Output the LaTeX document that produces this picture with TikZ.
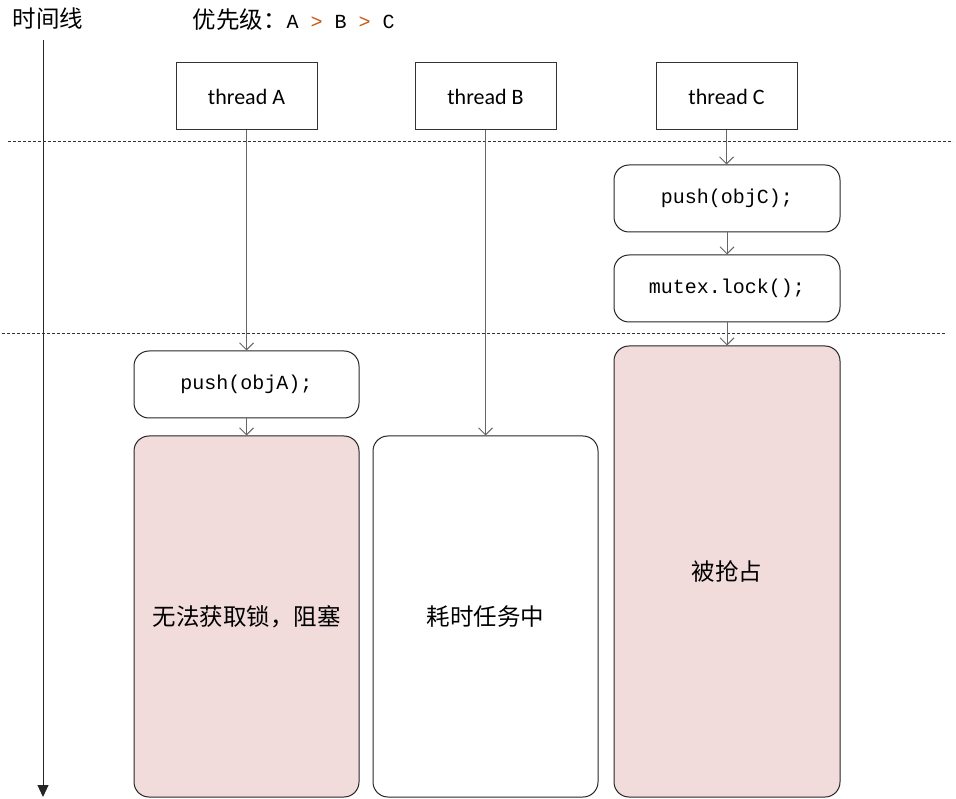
\documentclass[tikz,border=0pt]{standalone}
\usepackage{fontspec}
\usetikzlibrary{arrows.meta}
\newfontfamily\cjk{Noto Sans CJK SC}
\newfontfamily\calibri{Carlito}
\newfontfamily\codefont{Liberation Mono}
\definecolor{blockred}{RGB}{242,220,219}
\definecolor{prioarrow}{RGB}{197,90,17}
\tikzset{
  threadbox/.style={draw=black!80, minimum width=141pt, minimum height=67pt,
    font=\calibri\fontsize{22}{26}\selectfont},
  stepbox/.style={draw=black!85, rounded corners=15pt, minimum width=226pt,
    minimum height=67pt, font=\codefont\fontsize{20}{24}\selectfont},
  busybox/.style={stepbox, font=\cjk\fontsize{23.5}{28}\selectfont},
  flow/.style={draw=black!60, -{Straight Barb[length=7pt,width=14pt]}},
  sepline/.style={draw=black!80, dash pattern=on 3pt off 2pt}
}
\begin{document}
\begin{tikzpicture}[x=1pt,y=-1pt,line width=1pt]
\useasboundingbox (0,0) rectangle (956,799);
% 标题
\node[font=\cjk\fontsize{23.5}{28}\selectfont] (tline) at (48,19) {时间线};
\node[anchor=west, inner sep=0pt] (prio) at (192,20)
  {\cjk\fontsize{23.5}{28}\selectfont 优先级：\codefont\fontsize{20}{24}\selectfont
   A \textcolor{prioarrow}{>} B \textcolor{prioarrow}{>} C};
% 时间线
\coordinate (ttop) at (43,40);
\coordinate (tend) at (43,797);
\draw[black!85, -{Triangle[length=12pt,width=11pt]}] (ttop) -- (tend);
% 分隔线
\coordinate (s1l) at (8,142);
\coordinate (s1r) at (953,142);
\coordinate (s2l) at (2,334);
\coordinate (s2r) at (946,334);
\draw[sepline] (s1l) -- (s1r);
\draw[sepline] (s2l) -- (s2r);
% 线程
\node[threadbox] (thA) at (246.5,96.5) {thread A};
\node[threadbox] (thB) at (485.5,96.5) {thread B};
\node[threadbox] (thC) at (726.5,96.5) {thread C};
% thread C
\node[stepbox] (pushC) at (727,198.5) {push(objC);};
\node[stepbox] (lockC) at (727,288.5) {mutex.lock();};
\node[busybox, fill=blockred, minimum height=451pt] (waitC) at (727,571.5) {被抢占};
% thread A
\node[stepbox, minimum width=225pt] (pushA) at (246.5,384.5) {push(objA);};
\node[busybox, fill=blockred, minimum width=225pt, minimum height=361pt] (waitA)
  at (246.5,616.5) {无法获取锁，阻塞};
% thread B
\node[busybox, minimum width=225pt, minimum height=361pt] (busyB) at (485.5,616.5) {耗时任务中};
% 箭头
\draw[flow] (thA) -- (pushA);
\draw[flow] (pushA) -- (waitA);
\draw[flow] (thB) -- (busyB);
\draw[flow] (thC.south) -- (pushC.north -| thC.south);
\draw[flow] (pushC) -- (lockC);
\draw[flow] (lockC) -- (waitC);
\end{tikzpicture}
\end{document}
